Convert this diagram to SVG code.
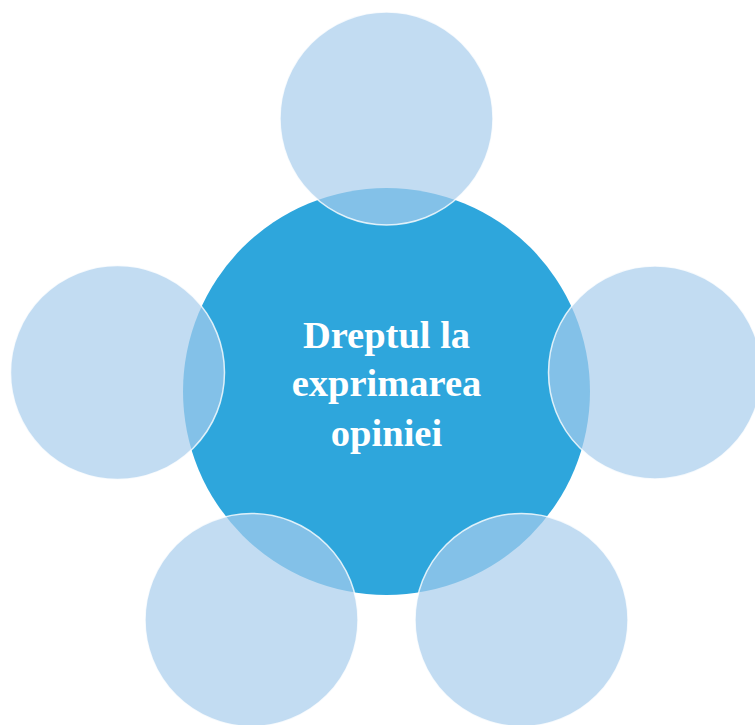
<svg xmlns="http://www.w3.org/2000/svg" width="755" height="725" viewBox="0 0 755 725">
<style>
.sat{fill:rgb(168,205,236);fill-opacity:0.7;stroke:#ffffff;stroke-width:1.5;stroke-opacity:0.8}
.t{font-family:"Liberation Serif","Times New Roman",serif;font-weight:bold;font-size:38.5px;fill:#ffffff;text-anchor:middle}
</style>
<rect width="755" height="725" fill="#ffffff"/>
<g id="center">
<circle cx="386.5" cy="391.5" r="203.5" fill="#2ea6dc"/>
<text class="t" x="386.5" y="347.5">Dreptul la</text>
<text class="t" x="386.5" y="396">exprimarea</text>
<text class="t" x="386.5" y="446">opiniei</text>
</g>
<g id="sat-top"><circle class="sat" cx="386.5" cy="118.5" r="106.5"/></g>
<g id="sat-right"><circle class="sat" cx="655" cy="372.5" r="106.5"/></g>
<g id="sat-left"><circle class="sat" cx="117.5" cy="372.5" r="107"/></g>
<g id="sat-bottom-left"><circle class="sat" cx="251.5" cy="620" r="106.5"/></g>
<g id="sat-bottom-right"><circle class="sat" cx="521.5" cy="620" r="106.5"/></g>
<g id="connectors"></g>
</svg>
